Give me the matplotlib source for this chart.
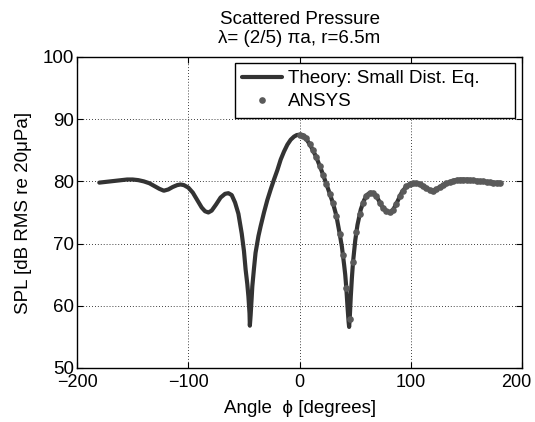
import matplotlib
matplotlib.use("Agg")
import matplotlib.pyplot as plt
from matplotlib.transforms import ScaledTranslation

plt.rcParams['font.family'] = ['Liberation Sans', 'DejaVu Sans']

# Theory curve (angle in degrees, SPL in dB)
theory_angle = [-180, -175, -170, -165, -160, -155, -150, -145, -140, -135, -130, -126, -122,
                -118, -114, -110, -107, -104, -100, -96, -92, -88, -85, -82, -79, -75, -71,
                -67, -64, -61, -58, -55, -52, -50, -48.5, -47, -46, -45, -44.7, -44, -43,
                -42.5, -41, -39.6, -37, -35, -32, -29, -26, -23, -20, -17, -14, -11, -8, -5,
                -2.5, 0, 2.5, 5, 10, 15, 20, 25, 30, 33, 36, 38, 40, 41, 42, 43, 44, 44.5,
                45, 46, 47, 48, 50, 52, 55, 58, 61, 64, 67, 70, 74, 78, 81, 84, 88, 92, 96,
                100, 104, 108, 112, 116, 119, 122, 126, 130, 135, 140, 145, 150, 155, 160,
                165, 170, 175, 180]
theory_spl = [79.8, 79.9, 80.0, 80.1, 80.2, 80.3, 80.3, 80.2, 80.0, 79.7, 79.2, 78.8, 78.5,
              78.7, 79.1, 79.4, 79.5, 79.4, 79.0, 78.2, 77.0, 75.8, 75.2, 75.0, 75.3, 76.3, 77.4,
              78.0, 78.1, 77.8, 76.6, 74.8, 71.6, 68.8, 65.8, 63.5, 61.5, 58.8, 56.8, 58.5, 61.5,
              63.1, 66.0, 68.5, 71.2, 72.8, 75.0, 77.0, 78.7, 80.3, 81.8, 83.5, 84.8, 85.9, 86.7,
              87.2, 87.45, 87.5, 87.45, 87.1, 85.7, 83.9, 81.6, 79.1, 76.5, 74.5, 71.6, 69.5,
              66.6, 65.0, 62.8, 60.0, 57.5, 56.6, 57.8, 61.5, 64.5, 67.0, 70.5, 73.0, 75.5, 77.0,
              77.9, 78.2, 78.0, 77.3, 76.0, 75.2, 75.0, 75.4, 76.8, 78.3, 79.2, 79.6, 79.7, 79.5,
              79.1, 78.7, 78.5, 78.6, 79.1, 79.5, 79.9, 80.2, 80.3, 80.3, 80.2, 80.1, 80.0, 79.9,
              79.8, 79.8]

# ANSYS points
ansys_angle = list(range(0, 181, 3))
ansys_spl = [87.5, 87.3, 86.9, 86.0, 85.0, 83.9, 82.5, 81.1, 79.6, 78.0, 76.5, 74.5, 71.6,
             68.1, 62.8, 57.8, 67.0, 71.8, 74.8, 76.6, 77.6, 78.1, 78.1, 77.6, 76.6, 75.8, 75.2,
             75.0, 75.4, 76.4, 77.6, 78.5, 79.2, 79.5, 79.7, 79.7, 79.5, 79.2, 78.9, 78.6, 78.5,
             78.7, 79.1, 79.4, 79.7, 79.9, 80.1, 80.2, 80.3, 80.3, 80.3, 80.2, 80.2, 80.1, 80.0,
             80.0, 79.9, 79.9, 79.8, 79.8, 79.8]

xticks = [-200, -100, 0, 100, 200]
yticks = [50, 60, 70, 80, 90, 100]
xticklabels = ['\u2212200', '\u2212100', '0', '100', '200']

FS = 13.5

fig = plt.figure(figsize=(5.35, 4.22), dpi=100)
ax = fig.add_axes([0.144, 0.128, 0.832, 0.737])

ax.plot(theory_angle, theory_spl, color='#333333', lw=3, solid_capstyle='round',
        label='Theory: Small Dist. Eq.', zorder=3)
ax.plot(ansys_angle, ansys_spl, linestyle='none', marker='o', markersize=4.8,
        color='#5a5a5a', markeredgewidth=0, label='ANSYS', zorder=4)

ax.set_xlim(-200, 200)
ax.set_ylim(50, 100)
ax.set_xticks(xticks)
ax.set_yticks(yticks)
ax.set_xticklabels(xticklabels)
ax.grid(True, color='black', linestyle=(0, (1, 2.5)), linewidth=0.6)
ax.tick_params(direction='in', length=4, width=0.8, labelsize=FS, top=True, right=True)
ax.tick_params(axis='x', pad=4.5, labelsize=13)
ax.tick_params(axis='y', pad=2)
for s in ax.spines.values():
    s.set_linewidth(1.0)

# keep the rightmost tick label inside the canvas
last = ax.xaxis.get_major_ticks()[-1].label1
last.set_transform(last.get_transform() + ScaledTranslation(-4 / 72, 0, fig.dpi_scale_trans))

ax.set_xlabel('Angle  \u03d5 [degrees]', fontsize=FS, labelpad=6)
ax.set_ylabel('SPL [dB RMS re 20\u03bcPa]', fontsize=FS, labelpad=8)
ax.set_title('Scattered Pressure\n\u03bb= (2/5) \u03c0a, r=6.5m', fontsize=FS,
             linespacing=1.15, pad=10)

leg = ax.legend(loc='upper left', bbox_to_anchor=(0.355, 0.5, 0.629, 0.481),
                mode='expand', borderaxespad=0, fontsize=FS, frameon=True, fancybox=False,
                edgecolor='black', framealpha=1, handlelength=2.15,
                handletextpad=0.3, borderpad=0.38, labelspacing=0.33, numpoints=1)
leg.get_frame().set_linewidth(1.0)

fig.savefig('out.png', dpi=100)
